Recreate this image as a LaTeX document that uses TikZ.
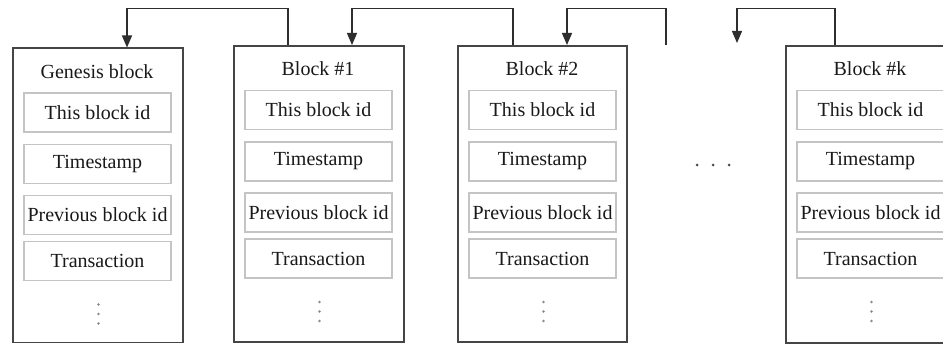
\documentclass[tikz,border=0pt]{standalone}
\usepackage{fontspec}
\setmainfont{Liberation Serif}
\usetikzlibrary{arrows.meta}
\definecolor{outerc}{HTML}{454545}
\definecolor{innerc}{HTML}{C4C4C4}
\definecolor{connc}{HTML}{2E2E2E}
\definecolor{dotc}{HTML}{8A8A8A}
\tikzset{
  outerbox/.style={draw=outerc, line width=1.6pt, inner sep=0pt, anchor=north west},
  innerbox/.style={draw=innerc, line width=1.2pt, minimum width=147pt, minimum height=39pt, inner sep=0pt, font=\fontsize{20}{22}\selectfont, text=black!90},
  titletext/.style={inner sep=0pt, font=\fontsize{20}{22}\selectfont, text=black!90},
  vdot/.style={circle, fill=dotc, inner sep=0pt, minimum size=2.6pt},
  hdot/.style={circle, fill=black!70, inner sep=0pt, minimum size=3pt},
  conn/.style={draw=connc, line width=1.3pt},
  arr/.style={conn, -{Triangle[length=12pt,width=10pt]}}
}
% #1 name, #2 left x, #3 vertical shift, #4 height, #5 title, #6 width
\newcommand{\mkblock}[6]{%
  \node[outerbox, minimum height=#4pt, minimum width=#6pt] (#1) at (#2,{45+#3}) {};
  \node[titletext] (#1-t) at ({#2+85},{69+#3}) {#5};
  \node[innerbox] (#1-r1) at ({#2+85.5},{110+#3}) {This block id};
  \node[innerbox] (#1-r2) at ({#2+85.5},{161.5+#3}) {Timestamp};
  \node[innerbox] (#1-r3) at ({#2+85.5},{212.5+#3}) {Previous block id};
  \node[innerbox] (#1-r4) at ({#2+85.5},{258.5+#3}) {Transaction};
  \node[vdot] (#1-d1) at ({#2+86.5},{302+#3}) {};
  \node[vdot] (#1-d2) at ({#2+86.5},{311.5+#3}) {};
  \node[vdot] (#1-d3) at ({#2+86.5},{321+#3}) {};
}
\begin{document}
\begin{tikzpicture}[x=1pt,y=-1pt]
\useasboundingbox (0,0) rectangle (943,345);
\clip (0,0) rectangle (943,345);
\fill[white] (0,0) rectangle (943,345);

\mkblock{g}{12}{2.5}{294}{Genesis block}{170}
\mkblock{b1}{233}{0}{296}{Block \#1}{170}
\mkblock{b2}{457}{0}{296}{Block \#2}{169}
\mkblock{bk}{785}{0}{297}{Block \#k}{175}

\node[hdot] (e1) at (697,165) {};
\node[hdot] (e2) at (713,165) {};
\node[hdot] (e3) at (729,165) {};

\coordinate (stub) at (666,45);
\coordinate (open) at (737,43);

\draw[arr] (b1.north -| 288,0) -- (288,8.5) -- (127,8.5) -- (g.north -| 127,0);
\draw[arr] (b2.north -| 513,0) -- (513,8.5) -- (352,8.5) -- (b1.north -| 352,0);
\draw[arr] (stub) -- (666,8.5) -- (567,8.5) -- (b2.north -| 567,0);
\draw[arr] (bk.north -| 835,0) -- (835,8.5) -- (737,8.5) -- (open);
\end{tikzpicture}
\end{document}
